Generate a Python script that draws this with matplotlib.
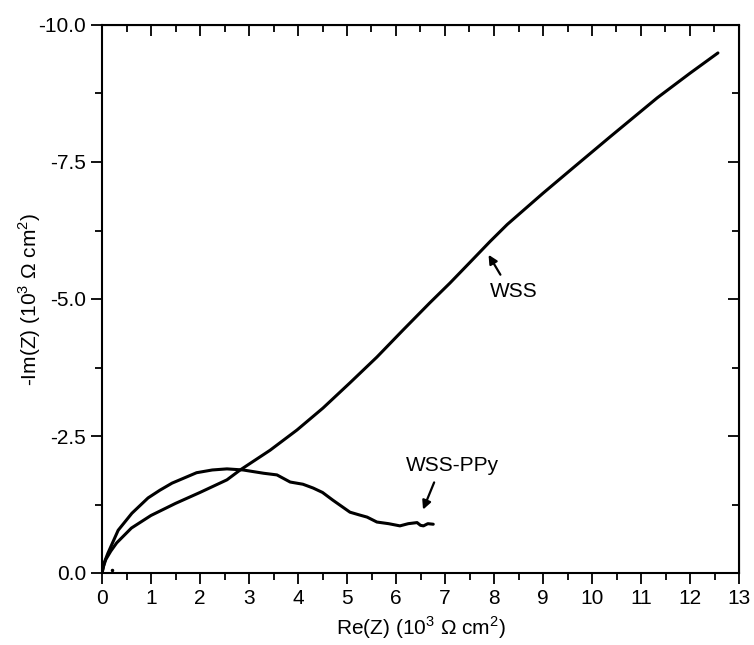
import matplotlib
matplotlib.use("Agg")
import matplotlib.pyplot as plt
from matplotlib.ticker import MultipleLocator

plt.rcParams['font.family'] = ['Liberation Sans', 'DejaVu Sans']
plt.rcParams['mathtext.fontset'] = 'custom'
plt.rcParams['mathtext.rm'] = 'Liberation Sans'

# WSS curve (Re, -Im) in 10^3 ohm cm^2
wss_re = [0.0, 0.03, 0.08, 0.18, 0.3, 0.6, 1.0, 1.5, 2.0, 2.55, 2.82, 3.43, 3.98,
          4.51, 5.06, 5.61, 6.14, 6.69, 7.1, 7.5, 7.92, 8.27, 9.0, 9.61, 10.37,
          11.33, 12.0, 12.57]
wss_im = [0.0, -0.12, -0.25, -0.4, -0.55, -0.82, -1.05, -1.27, -1.47, -1.70, -1.88,
          -2.24, -2.61, -3.01, -3.47, -3.94, -4.43, -4.93, -5.29, -5.66, -6.05,
          -6.36, -6.93, -7.39, -7.96, -8.67, -9.12, -9.49]

# WSS-PPy curve
ppy_re = [0.0, 0.05, 0.12, 0.33, 0.61, 0.94, 1.18, 1.43, 1.93, 2.25, 2.55, 2.88,
          3.3, 3.57, 3.84, 4.1, 4.31, 4.5, 4.71, 5.06, 5.25, 5.41, 5.61, 5.85,
          6.08, 6.25, 6.43, 6.5, 6.56, 6.65, 6.76]
ppy_im = [0.0, -0.2, -0.36, -0.78, -1.09, -1.37, -1.51, -1.64, -1.83, -1.88, -1.90,
          -1.88, -1.82, -1.79, -1.66, -1.62, -1.55, -1.47, -1.33, -1.11, -1.06,
          -1.02, -0.93, -0.90, -0.86, -0.90, -0.92, -0.87, -0.86, -0.90, -0.89]

fig = plt.figure(figsize=(7.54, 6.45), dpi=100)
ax = fig.add_axes([102 / 754, 1 - 573 / 645, (739 - 102) / 754, (573 - 25) / 645])

ax.plot(wss_re, wss_im, color='black', lw=2.2, solid_capstyle='round')
ax.plot(ppy_re, ppy_im, color='black', lw=2.2, solid_capstyle='round')
ax.plot([0.2], [-0.05], 'k.', ms=3)

ax.set_xlim(0, 13)
ax.set_ylim(0, -10)
ax.xaxis.set_major_locator(MultipleLocator(1))
ax.xaxis.set_minor_locator(MultipleLocator(0.5))
ax.yaxis.set_major_locator(MultipleLocator(2.5))
ax.yaxis.set_minor_locator(MultipleLocator(1.25))
ax.yaxis.set_major_formatter(plt.FuncFormatter(lambda v, p: '%.1f' % v))

ax.tick_params(which='both', direction='out', labelsize=15, width=1.3)
ax.tick_params(which='major', length=8)
ax.tick_params(which='minor', length=5)
for s in ax.spines.values():
    s.set_linewidth(1.5)

# mirrored inward ticks on top and right
top = ax.secondary_xaxis('top')
top.set_xticks(range(0, 14))
top.xaxis.set_minor_locator(MultipleLocator(0.5))
top.tick_params(which='both', direction='in', labeltop=False, width=1.3)
top.tick_params(which='major', length=8)
top.tick_params(which='minor', length=5)
right = ax.secondary_yaxis('right')
right.yaxis.set_major_locator(MultipleLocator(2.5))
right.yaxis.set_minor_locator(MultipleLocator(1.25))
right.tick_params(which='both', direction='in', labelright=False, width=1.3)
right.tick_params(which='major', length=8)
right.tick_params(which='minor', length=5)

ax.set_xlabel(r'Re(Z) (10$^{3}$ $\Omega$ cm$^{2}$)', fontsize=15)
ax.set_ylabel(r'-Im(Z) (10$^{3}$ $\Omega$ cm$^{2}$)', fontsize=15)
ax.xaxis.set_label_coords(0.5, -(628 - 573) / 548, transform=ax.transAxes)
ax.xaxis.label.set_va('center')
ax.yaxis.set_label_coords(-(102 - 30) / 637, 0.5, transform=ax.transAxes)
ax.yaxis.label.set_va('center')

arrow = dict(arrowstyle='-|>', color='black', lw=1.6, mutation_scale=13)
ax.annotate('', xy=(7.86, -5.85), xytext=(8.16, -5.4), arrowprops=arrow)
ax.text(7.92, -5.13, 'WSS', fontsize=15, va='center', ha='left')
ax.annotate('', xy=(6.53, -1.11), xytext=(6.8, -1.70), arrowprops=arrow)
ax.text(6.2, -1.97, 'WSS-PPy', fontsize=15, va='center', ha='left')

fig.savefig('out.png', dpi=100)
